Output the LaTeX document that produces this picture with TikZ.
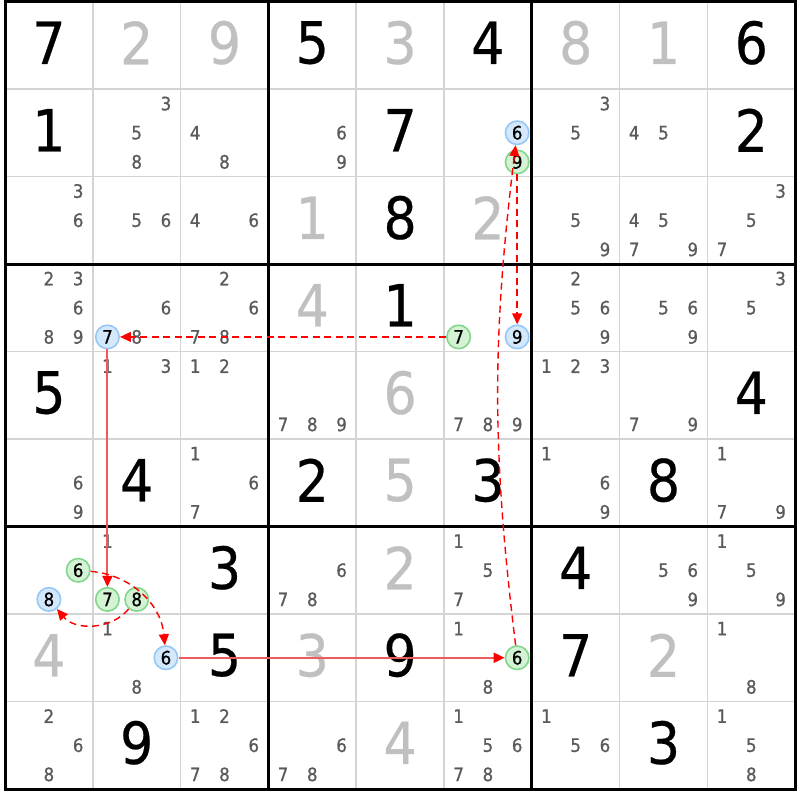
\documentclass[tikz,border=0pt]{standalone}
\usepackage{fontspec}
\newfontfamily\sudokufont{DejaVu Sans Condensed}[FakeBold=0.4]
\newfontfamily\candfont{DejaVu Sans Condensed}[FakeBold=0.8]
\usetikzlibrary{arrows.meta}
\definecolor{givengray}{RGB}{192,192,192}
\definecolor{candgray}{RGB}{90,90,90}
\definecolor{thingrid}{RGB}{212,212,212}
\definecolor{hlbluefill}{RGB}{212,232,252}
\definecolor{hlblueline}{RGB}{150,200,245}
\definecolor{hlgreenfill}{RGB}{212,242,212}
\definecolor{hlgreenline}{RGB}{130,215,140}
\definecolor{strongred}{RGB}{240,90,90}
\newcommand\sgiven[4]{\node[#4] (g#1#2) at ({5+(#2-0.5)*87.8},{1.5+(#1-0.5)*87.5-2.5}) {#3};}
\newcommand\scands[3]{\foreach \d in {#3}{\node[cand] (c#1#2\d) at ({5+(#2-1)*87.8+87.8*(1/6+mod(\d-1,3)/3)},{1.5+(#1-1)*87.5+87.5*(1/6+floor((\d-1)/3)/3)}) {\d};}}
\newcommand\shl[4]{\node[#4] (h#1#2#3) at ({5+(#2-1)*87.8+87.8*(1/6+mod(#3-1,3)/3)},{1.5+(#1-1)*87.5+87.5*(1/6+floor((#3-1)/3)/3)}) {#3};}
\begin{document}
\begin{tikzpicture}[x=1pt,y=-1pt,
  gk/.style={font=\sudokufont\fontsize{58}{60}\selectfont, text=black, inner sep=0pt},
  gg/.style={font=\sudokufont\fontsize{58}{60}\selectfont, text=givengray, inner sep=0pt},
  cand/.style={font=\candfont\fontsize{18.5}{20}\selectfont, text=candgray, inner sep=0pt},
  hlbase/.style={circle, line width=1.6pt, minimum size=23.5pt, inner sep=0pt, font=\candfont\fontsize{18.5}{20}\selectfont, text=black},
  hlb/.style={hlbase, draw=hlblueline, fill=hlbluefill},
  hlg/.style={hlbase, draw=hlgreenline, fill=hlgreenfill},
  thinline/.style={draw=thingrid, line width=1.5pt},
  thickline/.style={draw=black, line width=3pt},
  weaklink/.style={draw=red, line width=1.4pt, dash pattern=on 7pt off 4.5pt, -{Triangle[length=11pt,width=10pt]}},
  stronglink/.style={draw=strongred, line width=2pt, -{Triangle[length=11pt,width=10pt,color=red]}}]
\useasboundingbox (0,0) rectangle (800,800);
\fill[white] (0,0) rectangle (800,800);
% grid
\foreach \i in {1,2,4,5,7,8}{
  \draw[thinline] ({5+\i*87.8},1.5) -- ({5+\i*87.8},789);
  \draw[thinline] (5,{1.5+\i*87.5}) -- (795,{1.5+\i*87.5});
}
\foreach \i in {0,3,6,9}{
  \draw[thickline] ({5+\i*87.8},0) -- ({5+\i*87.8},790.5);
  \draw[thickline] (3.5,{1.5+\i*87.5}) -- (796.5,{1.5+\i*87.5});
}
% givens
\sgiven{1}{1}{7}{gk} \sgiven{1}{2}{2}{gg} \sgiven{1}{3}{9}{gg} \sgiven{1}{4}{5}{gk} \sgiven{1}{5}{3}{gg}
\sgiven{1}{6}{4}{gk} \sgiven{1}{7}{8}{gg} \sgiven{1}{8}{1}{gg} \sgiven{1}{9}{6}{gk}
\sgiven{2}{1}{1}{gk} \sgiven{2}{5}{7}{gk} \sgiven{2}{9}{2}{gk}
\sgiven{3}{4}{1}{gg} \sgiven{3}{5}{8}{gk} \sgiven{3}{6}{2}{gg}
\sgiven{4}{4}{4}{gg} \sgiven{4}{5}{1}{gk}
\sgiven{5}{1}{5}{gk} \sgiven{5}{5}{6}{gg} \sgiven{5}{9}{4}{gk}
\sgiven{6}{2}{4}{gk} \sgiven{6}{4}{2}{gk} \sgiven{6}{5}{5}{gg} \sgiven{6}{6}{3}{gk} \sgiven{6}{8}{8}{gk}
\sgiven{7}{3}{3}{gk} \sgiven{7}{5}{2}{gg} \sgiven{7}{7}{4}{gk}
\sgiven{8}{1}{4}{gg} \sgiven{8}{3}{5}{gk} \sgiven{8}{4}{3}{gg} \sgiven{8}{5}{9}{gk} \sgiven{8}{7}{7}{gk} \sgiven{8}{8}{2}{gg}
\sgiven{9}{2}{9}{gk} \sgiven{9}{5}{4}{gg} \sgiven{9}{8}{3}{gk}
% candidates
\scands{2}{2}{3,5,8} \scands{2}{3}{4,8} \scands{2}{4}{6,9} \scands{2}{7}{3,5} \scands{2}{8}{4,5}
\scands{3}{1}{3,6} \scands{3}{2}{5,6} \scands{3}{3}{4,6} \scands{3}{7}{5,9} \scands{3}{8}{4,5,7,9} \scands{3}{9}{3,5,7}
\scands{4}{1}{2,3,6,8,9} \scands{4}{2}{6,8} \scands{4}{3}{2,6,7,8} \scands{4}{7}{2,5,6,9} \scands{4}{8}{5,6,9} \scands{4}{9}{3,5}
\scands{5}{2}{1,3} \scands{5}{3}{1,2} \scands{5}{4}{7,8,9} \scands{5}{6}{7,8,9} \scands{5}{7}{1,2,3} \scands{5}{8}{7,9}
\scands{6}{1}{6,9} \scands{6}{3}{1,6,7} \scands{6}{7}{1,6,9} \scands{6}{9}{1,7,9}
\scands{7}{2}{1} \scands{7}{4}{6,7,8} \scands{7}{6}{1,5,7} \scands{7}{8}{5,6,9} \scands{7}{9}{1,5,9}
\scands{8}{2}{1,8} \scands{8}{6}{1,8} \scands{8}{9}{1,8}
\scands{9}{1}{2,6,8} \scands{9}{3}{1,2,6,7,8} \scands{9}{4}{6,7,8} \scands{9}{6}{1,5,6,7,8} \scands{9}{7}{1,5,6} \scands{9}{9}{1,5,8}
% highlighted candidates
\shl{2}{6}{6}{hlb} \shl{2}{6}{9}{hlg}
\shl{4}{2}{7}{hlb} \shl{4}{6}{7}{hlg} \shl{4}{6}{9}{hlb}
\shl{7}{1}{6}{hlg} \shl{7}{1}{8}{hlb} \shl{7}{2}{7}{hlg} \shl{7}{2}{8}{hlg}
\shl{8}{2}{6}{hlb} \shl{8}{6}{6}{hlg}
% chain
\draw[weaklink] (h467) -- (h427);
\draw[stronglink] (h427) -- (h727);
\draw[weaklink] (h716) to[bend left=40] (h826);
\draw[weaklink] (h728) to[bend left=50] (h718);
\draw[stronglink] (h826) -- (h866);
\draw[weaklink] (h866) to[bend left=7] (h266);
\draw[weaklink] (h269) -- (h469);
\end{tikzpicture}
\end{document}
